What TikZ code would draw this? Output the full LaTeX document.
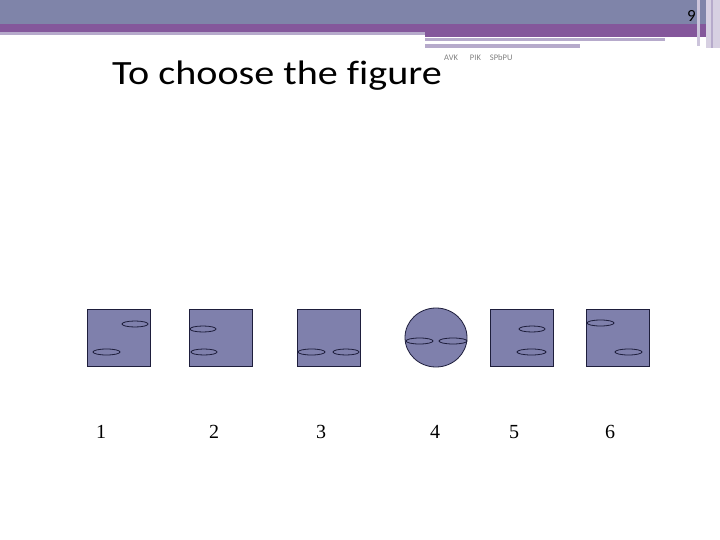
\documentclass[tikz,border=0pt]{standalone}
\usepackage{fontspec}
\setmainfont{Liberation Serif}
\newfontfamily\titlefont[Ligatures=NoCommon]{Carlito}
\definecolor{bandblue}{HTML}{7F84A9}
\definecolor{bandpurple}{HTML}{84579B}
\definecolor{bandlilac}{HTML}{B6AACB}
\definecolor{figfill}{HTML}{7F80AC}
\definecolor{figline}{HTML}{1E1E3C}
\tikzset{
  figure/.style={draw=figline, fill=figfill, line width=0.8pt},
  hole/.style={draw=figline, fill=figfill, line width=0.8pt},
  numlabel/.style={font=\fontsize{20}{20}\selectfont, anchor=base},
}

\begin{document}
\begin{tikzpicture}[x=1pt, y=-1pt]
      \useasboundingbox (0,0) rectangle (720,540);
      % header bands
      \fill[bandblue] (0,0) rectangle (706,24);
      \fill[bandpurple] (0,24) rectangle (706,32);
      \fill[bandpurple] (425,32) rectangle (706,37);
      \fill[bandlilac] (0,32) rectangle (425,35);
      \fill[bandlilac] (425,38) rectangle (665,41);
      \fill[bandlilac] (425,44) rectangle (580,48);
      \fill[bandlilac!70] (697,0) rectangle (700,46);
      \fill[bandlilac!55] (706,0) rectangle (720,48);
      \fill[bandlilac] (711,0) rectangle (713,48);
      % texts
      \node[anchor=base east, inner sep=0, font=\titlefont\fontsize{17}{17}\selectfont, text=black] (page) at (696,21.5) {9};
      \node[anchor=base west, inner sep=0, font=\titlefont\fontsize{34}{34}\selectfont] (title) at (112,85) {\scalebox{1.18}[1]{To choose the figure}};
      \node[anchor=base west, inner sep=0, font=\titlefont\fontsize{8.5}{8.5}\selectfont, text=gray] (tag) at (444,61) {AVK\hspace{12pt}PIK\hspace{9pt}SPbPU};
      % figures
      \draw[figure] (87,309) rectangle (150,366);
      \draw[figure] (189,309) rectangle (252,366);
      \draw[figure] (297,309) rectangle (360,366);
      \draw[figure] (436,337.5) ellipse (31 and 29.5);
      \draw[figure] (490,309) rectangle (553,366);
      \draw[figure] (586,309) rectangle (649,366);
      % holes
      \draw[hole] (135,324) ellipse (13 and 3);
      \draw[hole] (106.5,352) ellipse (13.5 and 3);
      \draw[hole] (203,329) ellipse (13 and 3);
      \draw[hole] (204,352) ellipse (13 and 3);
      \draw[hole] (311.5,352) ellipse (13.5 and 3);
      \draw[hole] (346,352) ellipse (13 and 3);
      \draw[hole] (419.5,341) ellipse (13.5 and 3);
      \draw[hole] (453,341) ellipse (14 and 3);
      \draw[hole] (532,329) ellipse (13 and 3);
      \draw[hole] (531.5,352) ellipse (14.5 and 3);
      \draw[hole] (600.5,323) ellipse (13.5 and 3);
      \draw[hole] (628.5,352) ellipse (13.5 and 3);
      % numbers
      \node[numlabel] (n1) at (101,438) {1};
      \node[numlabel] (n2) at (214,438) {2};
      \node[numlabel] (n3) at (321,438) {3};
      \node[numlabel] (n4) at (435,438) {4};
      \node[numlabel] (n5) at (514,438) {5};
      \node[numlabel] (n6) at (610,438) {6};
\end{tikzpicture}
\end{document}
